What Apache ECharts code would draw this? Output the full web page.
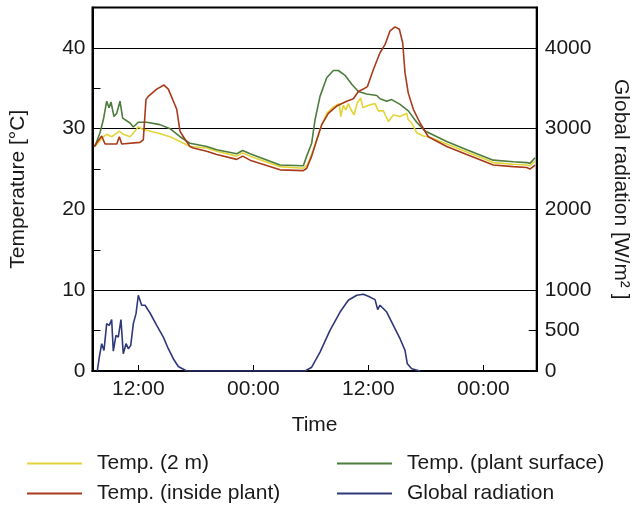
<!DOCTYPE html>
<html>
<head>
<meta charset="utf-8">
<script src="https://cdn.jsdelivr.net/npm/echarts@6/dist/echarts.min.js"></script>
<style>html,body{margin:0;padding:0;background:#fff}#c{width:641px;height:509px}</style>
</head>
<body>
<div id="c"></div>
<script>
// Time in hours since 00:00 of day 1
const tickHours = [12, 24, 36, 48];
const tickLabels = ['12:00', '00:00', '12:00', '00:00'];
const tempTicks = [0, 10, 20, 30, 40];
const tempMinorTicks = [5, 10, 15, 20, 25, 30, 35, 40];
const radTicks = [0, 500, 1000, 2000, 3000, 4000];

const temp2mHours = [7.48, 8.35, 8.70, 9.22, 9.57, 10.02, 10.43, 11.13, 11.66, 12.0, 12.52, 13.92, 15.31, 16.35, 17.39, 19.14, 20.18, 22.27, 22.89, 23.66, 26.79, 29.22, 29.64, 30.26, 30.96, 31.66, 32.35, 32.97, 33.12, 33.39, 33.67, 33.91, 34.16, 34.51, 34.85, 35.21, 35.42, 36.00, 36.70, 37.04, 37.57, 38.09, 38.61, 39.31, 40.01, 40.17, 40.53, 41.05, 41.74, 42.26, 44.18, 46.27, 49.04, 51.13, 52.53, 52.87, 53.40];
const temp2mValues = [27.8, 29.0, 29.3, 29.0, 29.3, 29.7, 29.3, 29.0, 29.7, 30.2, 29.9, 29.5, 29.0, 28.4, 27.8, 27.6, 27.2, 26.6, 27.0, 26.6, 25.3, 25.1, 25.5, 27.4, 29.9, 31.9, 32.7, 33.1, 31.5, 32.9, 32.3, 33.1, 32.4, 31.7, 33.2, 33.8, 32.6, 32.9, 33.1, 32.2, 32.2, 30.9, 31.7, 31.5, 31.9, 31.1, 30.7, 29.5, 29.1, 29.0, 28.1, 27.1, 25.8, 25.6, 25.5, 25.4, 26.0];

const tempSurfHours = [7.48, 8.00, 8.35, 8.70, 8.94, 9.15, 9.46, 9.75, 10.09, 10.37, 11.13, 11.48, 12.0, 12.88, 14.26, 15.31, 16.35, 17.39, 19.14, 20.18, 22.27, 22.89, 23.66, 26.79, 29.22, 29.57, 30.09, 30.44, 30.96, 31.66, 32.35, 32.87, 33.57, 34.27, 34.96, 35.83, 36.88, 37.22, 37.92, 38.44, 39.31, 40.17, 41.05, 41.92, 44.18, 46.27, 49.04, 51.13, 52.53, 52.87, 53.40];
const tempSurfValues = [27.8, 29.5, 31.1, 33.4, 32.6, 33.3, 31.5, 31.9, 33.4, 31.3, 30.7, 30.2, 30.8, 30.8, 30.5, 30.0, 29.0, 28.2, 27.8, 27.4, 26.9, 27.3, 26.9, 25.5, 25.4, 26.6, 28.2, 31.1, 34.0, 36.3, 37.2, 37.2, 36.6, 35.5, 34.6, 34.3, 34.1, 33.7, 33.4, 33.6, 33.0, 32.2, 30.8, 29.7, 28.4, 27.4, 26.1, 25.9, 25.8, 25.7, 26.4];

const tempInsideHours = [7.38, 8.18, 8.53, 9.75, 10.02, 10.27, 12.18, 12.52, 12.80, 13.04, 13.92, 14.68, 15.13, 16.01, 16.35, 16.70, 17.39, 17.74, 19.14, 20.18, 22.27, 22.89, 23.66, 26.79, 29.22, 29.57, 30.09, 30.62, 31.14, 31.83, 32.70, 33.75, 34.44, 34.96, 35.48, 35.90, 36.52, 37.22, 37.74, 38.26, 38.79, 39.24, 39.59, 39.83, 40.17, 40.70, 41.40, 42.26, 44.18, 46.27, 49.04, 51.13, 52.53, 52.87, 53.40];
const tempInsideValues = [27.8, 29.1, 28.1, 28.1, 29.0, 28.1, 28.3, 28.6, 33.6, 34.0, 34.9, 35.4, 34.9, 32.4, 29.7, 29.0, 27.8, 27.6, 27.2, 26.8, 26.2, 26.6, 26.1, 24.9, 24.8, 25.1, 26.6, 28.6, 30.5, 31.9, 32.8, 33.4, 33.7, 34.6, 34.9, 35.2, 37.3, 39.4, 40.4, 42.1, 42.6, 42.3, 40.6, 36.9, 34.4, 32.4, 30.7, 29.0, 27.8, 26.8, 25.5, 25.3, 25.2, 25.0, 25.5];

const radHours = [7.72, 7.93, 8.18, 8.42, 8.70, 8.97, 9.22, 9.39, 9.67, 9.91, 10.19, 10.43, 10.72, 10.96, 11.21, 11.48, 11.76, 12.0, 12.35, 12.70, 13.22, 13.92, 14.61, 15.13, 15.65, 16.17, 17.05, 29.40, 30.09, 30.96, 32.00, 33.05, 33.91, 34.79, 35.48, 36.00, 36.70, 36.98, 37.22, 37.92, 38.61, 39.31, 39.83, 40.07, 40.53, 41.40];
const radValues = [0, 171, 338, 255, 586, 565, 636, 246, 441, 420, 636, 214, 338, 276, 317, 586, 710, 938, 814, 814, 718, 565, 420, 276, 152, 56, 0, 0, 47, 234, 503, 730, 876, 938, 950, 925, 884, 760, 814, 730, 565, 400, 255, 89, 27, 0];

const zip = (a, b) => a.map((v, i) => [v, b[i]]);

const FONT = '"Liberation Sans", Arial, Helvetica, sans-serif';
const TXT = '#1a1a1a';
const FS = 21;

const chart = echarts.init(document.getElementById('c'), null, {renderer: 'canvas'});
const lineW = 1.6;
const legendCommon = {
  orient: 'vertical', top: 453, padding: 0, itemWidth: 55, itemHeight: 2, itemGap: 9, icon: 'rect',
  textStyle: {fontFamily: FONT, fontSize: FS, color: TXT, padding: [0, 0, 0, 10]}
};
chart.setOption({
  animation: false,
  textStyle: {fontFamily: FONT, color: TXT},
  grid: {left: 92.5, right: 104.3, top: 7.5, bottom: 138, outerBoundsMode: 'none', containLabel: false,
    show: true, borderColor: '#000', borderWidth: 2, backgroundColor: 'transparent'},
  legend: [
    Object.assign({left: 27, data: ['Temp. (2 m)', 'Temp. (inside plant)']}, legendCommon),
    Object.assign({left: 337, data: ['Temp. (plant surface)', 'Global radiation']}, legendCommon)
  ],
  xAxis: {
    type: 'value', min: 7.22, max: 53.57,
    name: 'Time', nameLocation: 'middle', nameGap: 44,
    nameTextStyle: {fontFamily: FONT, fontSize: FS, color: TXT},
    axisLine: {show: true, lineStyle: {color: '#000', width: 2}},
    axisTick: {show: true, inside: true, length: 6, customValues: tickHours, lineStyle: {color: '#000', width: 1}},
    axisLabel: {show: true, margin: 8, customValues: tickHours, fontFamily: FONT, fontSize: FS, color: TXT,
      formatter: v => tickLabels[tickHours.indexOf(Math.round(v))] || ''},
    splitLine: {show: false}
  },
  yAxis: [
    {
      type: 'value', min: 0, max: 45, interval: 10, position: 'left',
      name: 'Temperature [°C]', nameLocation: 'middle', nameGap: 64, nameRotate: 90,
      nameTextStyle: {fontFamily: FONT, fontSize: FS, color: TXT},
      axisLine: {show: true, lineStyle: {color: '#000', width: 2}},
      axisTick: {show: true, inside: true, length: 8, customValues: tempMinorTicks, lineStyle: {color: '#000', width: 1}},
      axisLabel: {show: true, margin: 7, customValues: tempTicks, fontFamily: FONT, fontSize: FS, color: TXT,
        formatter: v => String(v)},
      splitLine: {show: true, lineStyle: {color: ['rgba(0,0,0,0)', '#000'], width: 1}}
    },
    {
      type: 'value', min: 0, max: 4500, interval: 500, position: 'right',
      name: 'Global radiation [W/m² ]', nameLocation: 'middle', nameGap: 74, nameRotate: -90,
      nameTextStyle: {fontFamily: FONT, fontSize: FS, color: TXT},
      axisLine: {show: true, lineStyle: {color: '#000', width: 2}},
      axisTick: {show: true, inside: true, length: 8, customValues: [500], lineStyle: {color: '#000', width: 1}},
      axisLabel: {show: true, margin: 8, customValues: radTicks, fontFamily: FONT, fontSize: FS, color: TXT, align: 'left',
        formatter: v => String(v)},
      splitLine: {show: false}
    }
  ],
  series: [
    {name: 'Temp. (2 m)', type: 'line', yAxisIndex: 0, data: zip(temp2mHours, temp2mValues), showSymbol: false, symbol: 'none', color: '#e3d43a', lineStyle: {width: lineW}, z: 3},
    {name: 'Temp. (plant surface)', type: 'line', yAxisIndex: 0, data: zip(tempSurfHours, tempSurfValues), showSymbol: false, symbol: 'none', color: '#4e7c3c', lineStyle: {width: lineW}, z: 4},
    {name: 'Temp. (inside plant)', type: 'line', yAxisIndex: 0, data: zip(tempInsideHours, tempInsideValues), showSymbol: false, symbol: 'none', color: '#a93a1c', lineStyle: {width: lineW}, z: 5},
    {name: 'Global radiation', type: 'line', yAxisIndex: 1, data: zip(radHours, radValues), showSymbol: false, symbol: 'none', color: '#2f3878', lineStyle: {width: lineW}, z: 5}
  ]
});
</script>
</body>
</html>
